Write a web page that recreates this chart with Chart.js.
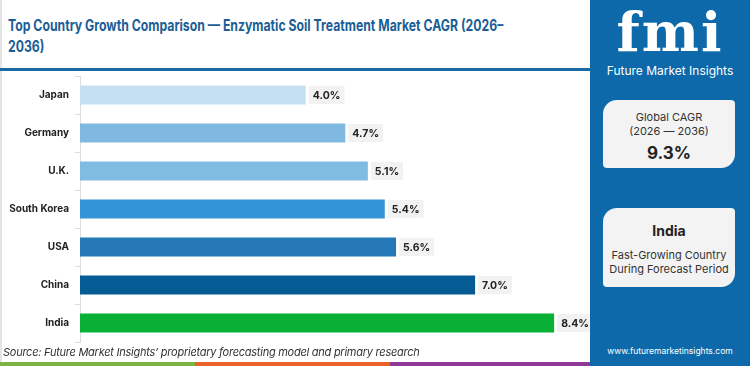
<!DOCTYPE html>
<html>
<head>
<meta charset="utf-8">
<script src="https://cdn.jsdelivr.net/npm/chart.js@4.4.1/dist/chart.umd.min.js"></script>
<style>
  html, body { margin: 0; padding: 0; }
  body { width: 750px; height: 366px; position: relative; overflow: hidden; background: #fff; font-family: Inter, "Open Sans", sans-serif; }
  #edge { position: absolute; left: 0; top: 0; width: 2px; height: 366px; background: #e4e4e4; }
  #title { position: absolute; left: 8px; top: 15px; white-space: nowrap; font-size: 15.5px; font-weight: 700; color: #1b5e95; line-height: 21px; transform: scaleX(0.79); transform-origin: 0 0; }
  #rule { position: absolute; left: 0; top: 68px; width: 590px; height: 3px; background: #1b6aa5; }
  #chartBox { position: absolute; left: 0; top: 64px; width: 590px; height: 290px; }
  #source { position: absolute; left: 3px; top: 345px; font-size: 11px; letter-spacing: -0.25px; font-style: italic; color: #333; }
  .stripe { position: absolute; top: 362px; height: 4px; }
  #right { position: absolute; left: 590px; top: 0; width: 160px; height: 366px; background: #0d69a9; }
  #logo { position: absolute; left: 0; top: 2px; width: 160px; text-align: center; color: #fff; font-family: "DejaVu Serif", serif; font-weight: 700; font-size: 54px; line-height: 60px; letter-spacing: 2px; }
  #brand { position: absolute; left: 0; top: 63px; width: 160px; text-align: center; color: #fff; font-size: 12px; }
  .card { position: absolute; left: 13px; width: 132px; background: #f3f3f3; border-radius: 14px 4px 14px 4px; text-align: center; color: #333; }
  #card1 { top: 100px; height: 68px; }
  #card2 { top: 208px; height: 79px; }
  #url { position: absolute; left: 0; top: 346px; width: 160px; text-align: center; color: #fff; font-size: 8.5px; }
</style>
</head>
<body>
<div id="edge"></div>
<div id="title">Top Country Growth Comparison — Enzymatic Soil Treatment Market CAGR (2026–<br>2036)</div>
<div id="rule"></div>
<div id="chartBox"><canvas id="chart"></canvas></div>
<div id="source">Source: Future Market Insights’ proprietary forecasting model and primary research</div>
<div class="stripe" style="left:0;width:195px;background:#7cb342"></div>
<div class="stripe" style="left:195px;width:195px;background:#e8622a"></div>
<div class="stripe" style="left:390px;width:200px;background:#8e3a96"></div>
<div id="right">
  <div id="logo">fmi</div>
  <div id="brand">Future Market Insights</div>
  <div class="card" id="card1">
    <div style="margin-top:10px;font-size:11px;line-height:14px">Global CAGR<br>(2026 — 2036)</div>
    <div style="margin-top:5px;font-size:17px;font-weight:700;color:#222">9.3%</div>
  </div>
  <div class="card" id="card2">
    <div style="margin-top:14px;font-size:14px;font-weight:700;color:#222">India</div>
    <div style="margin-top:9px;font-size:11px;line-height:14px">Fast-Growing Country<br>During Forecast Period</div>
  </div>
  <div id="url">www.futuremarketinsights.com</div>
</div>

<script>
// chart data
const countries = ['Japan', 'Germany', 'U.K.', 'South Korea', 'USA', 'China', 'India'];
const cagr = [4.0, 4.7, 5.1, 5.4, 5.6, 7.0, 8.4];
const barColors = ['#c5e0f2', '#7fb8e0', '#80bbe2', '#3394d6', '#2478b5', '#055b93', '#08b035'];

// value label with grey box at bar end
const valueLabels = {
  id: 'valueLabels',
  afterDatasetsDraw(chart) {
    const ctx = chart.ctx;
    const meta = chart.getDatasetMeta(0);
    ctx.save();
    ctx.font = 'bold 10.5px Inter, sans-serif';
    ctx.textBaseline = 'middle';
    meta.data.forEach((bar, i) => {
      const text = cagr[i].toFixed(1) + '%';
      const w = ctx.measureText(text).width;
      const x = bar.x + 3;
      ctx.fillStyle = '#f2f2f2';
      ctx.fillRect(x, bar.y - 9, w + 8, 18);
      ctx.fillStyle = '#222';
      ctx.fillText(text, x + 4, bar.y + 1);
    });
    ctx.restore();
  }
};

new Chart(document.getElementById('chart'), {
  type: 'bar',
  data: {
    labels: countries,
    datasets: [{
      data: cagr,
      backgroundColor: barColors,
      barPercentage: 0.5,
      categoryPercentage: 1
    }]
  },
  options: {
    indexAxis: 'y',
    responsive: true,
    maintainAspectRatio: false,
    animation: false,
    layout: { padding: { left: 0, right: 2, top: 0, bottom: 0 } },
    scales: {
      x: { display: false, min: 0, max: 9 },
      y: {
        afterFit: (scale) => { scale.width = 80; },
        border: { color: '#dddddd' },
        grid: { drawOnChartArea: false, tickLength: 5, color: '#dddddd' },
        ticks: { color: '#222', font: { family: 'Inter, sans-serif', size: 10, weight: 'bold' }, padding: 6 }
      }
    },
    plugins: {
      legend: { display: false },
      tooltip: { enabled: false }
    }
  },
  plugins: [valueLabels]
});
</script>
</body>
</html>
